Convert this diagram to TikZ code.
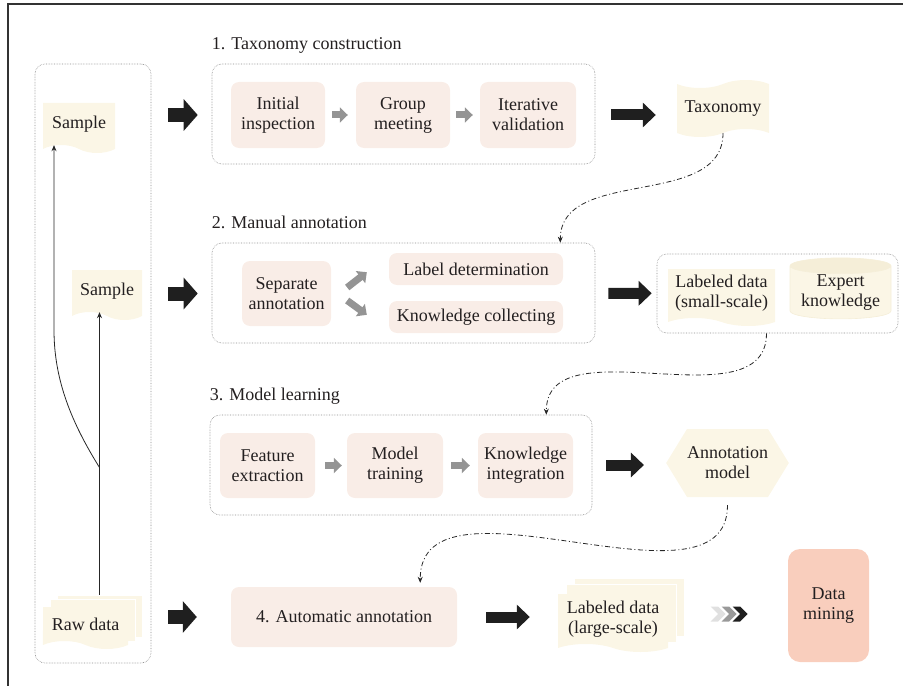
\documentclass[tikz,border=0pt]{standalone}
\usepackage{fontspec}
\setmainfont{Liberation Serif}
\usetikzlibrary{arrows.meta, calc, positioning, shapes.symbols, shapes.geometric}

\definecolor{boxpink}{RGB}{249,237,231}
\definecolor{doccream}{RGB}{251,246,230}
\definecolor{cylend}{RGB}{245,238,216}
\definecolor{minesalmon}{RGB}{249,206,189}
\definecolor{txtgray}{RGB}{35,31,32}

\begin{document}
\begin{tikzpicture}[x=1bp, y=-1bp,
  every node/.style={font=\fontsize{18bp}{20bp}\selectfont, text=txtgray, align=center, inner sep=0pt},
  stepbox/.style={fill=boxpink, rounded corners=8bp},
  groupbox/.style={draw=black!45, densely dotted, line width=0.6bp, rounded corners=10bp},
  steptitle/.style={anchor=base west},
  docnode/.style={tape, tape bend top=none, tape bend bottom=out and in, tape bend height=8bp, fill=doccream},
  sheet/.style={rectangle, fill=doccream, draw=white, line width=1bp},
  chevron/.style={signal, signal from=west, signal to=east, minimum width=12bp, minimum height=15bp},
  fatarrow/.style={line width=14bp, black!88, -{Triangle[length=14bp, width=31bp]}},
  headarrow/.style={line width=11bp, black!88, -{Triangle[length=13bp, width=24bp]}},
  grayarrow/.style={line width=7bp, black!42, -{Triangle[length=8bp, width=15bp]}},
  thinarrow/.style={line width=0.8bp, black!85, -{Stealth[length=6bp, width=5bp]}},
  dashdot/.style={line width=0.8bp, black!85, dash pattern=on 5bp off 2.5bp on 1bp off 2.5bp, -{Stealth[length=6bp, width=5bp]}}
]
\useasboundingbox (0,0) rectangle (903,686);
\draw[line width=1.5bp, black!80] (8,686) -- (8,4) -- (903,4);

% samples
\node[groupbox, minimum width=116bp, minimum height=599bp] (col) at (93,363.5) {};
\node[docnode, minimum width=72bp, minimum height=50bp] (smp1) at (79,124) {Sample};
\node[docnode, minimum width=70bp, minimum height=50bp] (smp2) at (107,291) {Sample};
\node[sheet, minimum width=85bp, minimum height=42bp] (raw2) at (99.5,616) {};
\node[sheet, minimum width=85bp, minimum height=42bp] (raw1) at (92.5,620) {};
\node[docnode, minimum width=85bp, minimum height=42bp] (raw) at (85.5,624) {Raw data};

\coordinate (split) at ($(raw2.north)+(0,-127)$);
\coordinate (bend) at (54,330);
\draw[thinarrow] (raw2.north) -- (raw2.north |- smp2.south);
\draw[thinarrow] (split) .. controls +(-28,-45) and +(0,50) .. (bend) -- (bend |- smp1.south);

% 1
\node[groupbox, minimum width=383bp, minimum height=100bp] (stg1) at (403.5,114) {};
\node[steptitle] (ttl1) at ([yshift=14bp]stg1.north west) {1. Taxonomy construction};
\node[stepbox, minimum width=94bp, minimum height=66bp] (init) at (278,115) {Initial\\inspection};
\node[stepbox, minimum width=94bp, minimum height=66bp] (grp) at (403,115) {Group\\meeting};
\node[stepbox, minimum width=96bp, minimum height=66bp] (iter) at (528,115) {Iterative\\validation};
\draw[grayarrow, shorten <=7bp, shorten >=8bp] (init) -- (grp);
\draw[grayarrow, shorten <=6bp, shorten >=7bp] (grp) -- (iter);

% 2
\node[groupbox, minimum width=383bp, minimum height=100bp] (stg2) at (403.5,293) {};
\node[steptitle] (ttl2) at ([yshift=14bp]stg2.north west) {2. Manual annotation};
\node[stepbox, minimum width=89bp, minimum height=65bp] (sep) at (286.5,293.5) {Separate\\annotation};
\node[stepbox, minimum width=174bp, minimum height=32bp] (ldet) at (476,269) {Label determination};
\node[stepbox, minimum width=174bp, minimum height=32bp] (kcol) at (476,317) {Knowledge collecting};
\draw[grayarrow] ([shift={(16,-6)}]sep.east) -- ([shift={(-22,-13)}]ldet.south west);
\draw[grayarrow] ([shift={(16,7)}]sep.east) -- ([shift={(-22,14)}]kcol.north west);

% 3
\node[groupbox, minimum width=382bp, minimum height=100bp] (stg3) at (401,465) {};
\node[steptitle] (ttl3) at ([yshift=14bp]stg3.north west) {3. Model learning};
\node[stepbox, minimum width=95bp, minimum height=65bp] (feat) at (267.5,465.5) {Feature\\extraction};
\node[stepbox, minimum width=96bp, minimum height=65bp] (mtrn) at (395,465.5) {Model\\training};
\node[stepbox, minimum width=95bp, minimum height=65bp] (kint) at (525.5,465.5) {Knowledge\\integration};
\draw[grayarrow, shorten <=10bp, shorten >=5bp] (feat) -- (mtrn);
\draw[grayarrow, shorten <=8bp, shorten >=8bp] (mtrn) -- (kint);

% 4
\node[stepbox, minimum width=226bp, minimum height=60bp] (auto) at (344,617) {4. Automatic annotation};

% results
\node[tape, tape bend top=in and out, tape bend bottom=in and out, tape bend height=8bp, fill=doccream,
  minimum width=92bp, minimum height=57bp] (taxo) at (723,108.5) {Taxonomy};
\node[groupbox, minimum width=241bp, minimum height=79bp] (lbl) at (777.5,293.5) {};
\node[docnode, minimum width=107bp, minimum height=57bp] (lsml) at (721.5,293.5) {Labeled data\\(small-scale)};
\node[cylinder, shape border rotate=90, aspect=0.2, minimum width=101bp, minimum height=61bp,
  cylinder uses custom fill, cylinder body fill=doccream, cylinder end fill=cylend,
  draw=cylend, line width=0.6bp] (expk) at (840.5,292.5) {Expert\\knowledge};
\node[signal, signal to=east and west, signal pointer angle=117, fill=doccream,
  minimum width=111bp, minimum height=68bp] (amod) at (727.5,463) {Annotation\\model};
\node[sheet, minimum width=110bp, minimum height=58bp] (lrg2) at (629,607) {};
\node[sheet, minimum width=110bp, minimum height=58bp] (lrg1) at (621,613) {};
\node[docnode, minimum width=110bp, minimum height=58bp] (lrg) at (613,619) {Labeled data\\(large-scale)};
\foreach \x/\c [count=\i] in {718/12, 729/40, 740/88}
  \node[chevron, fill=black!\c] (chv\i) at (\x,614) {};
\node[stepbox, fill=minesalmon, rounded corners=12bp, minimum width=81bp, minimum height=113bp] (dmin) at (828.5,605.5) {Data\\mining};

% flow
\draw[fatarrow, shorten <=17bp, shorten >=14bp] (col.east |- init) -- (stg1.west |- init);
\draw[fatarrow, shorten <=17bp, shorten >=14bp] (col.east |- sep) -- (stg2.west |- sep);
\draw[fatarrow, shorten <=17bp, shorten >=34bp] (col.east |- auto) -- (auto.west);
\draw[headarrow, shorten <=16bp, shorten >=21bp] (stg1.east |- init) -- (taxo.west |- init);
\draw[headarrow, shorten <=13bp, shorten >=5bp] (stg2) -- (lbl);
\draw[headarrow, shorten <=14bp, shorten >=22bp] (stg3.east) -- (stg3.east -| amod.west);
\draw[headarrow, shorten <=29bp, shorten >=28bp] (auto) -- (auto -| lrg.west);

\draw[dashdot] (taxo.south) to[out=-90, in=90] ([xshift=-35bp]stg2.north east);
\draw[dashdot] ([xshift=-11bp]lbl.south) to[out=-90, in=90] ([xshift=-46bp]stg3.north east);
\draw[dashdot, shorten <=8bp, shorten >=4bp] (amod.south) to[out=-90, in=90] ([xshift=-37bp]auto.north east);
\end{tikzpicture}
\end{document}
